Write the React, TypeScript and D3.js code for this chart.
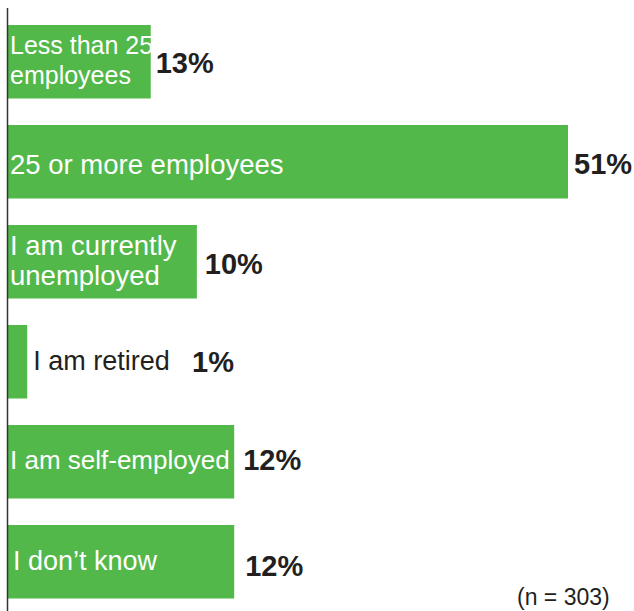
import React from "react";
import * as d3 from "d3";

// ---- data ----
const categories: string[][] = [
  ["Less than 25", "employees"],
  ["25 or more employees"],
  ["I am currently", "unemployed"],
  ["I am retired"],
  ["I am self-employed"],
  ["I don\u2019t know"],
];
const percentLabels: string[] = ["13%", "51%", "10%", "1%", "12%", "12%"];
const values: number[] = [13, 51, 10, 1, 12, 12];
// bar lengths as drawn in the picture (in % units; the source stretches short bars to hold labels)
const barLengths: number[] = [13, 51, 17.2, 1.75, 20.6, 20.6];
const sampleNote = "(n = 303)";

const W = 634;
const H = 611;
const GREEN = "#52b84a";
const DARK = "#231f20";
const FONT = "'Liberation Sans', Arial, Helvetica, sans-serif";

export default function App() {
  const x0 = 8;
  const x = d3.scaleLinear().domain([0, 51]).range([x0, x0 + 560]);
  const ids = categories.map((_, i) => String(i));
  const y = d3
    .scaleBand<string>()
    .domain(ids)
    .range([25, 598.5])
    .paddingInner(0.265)
    .paddingOuter(0)
    .align(0);

  // per-row label tweaks (font size, label offsets)
  const catSize = [25, 27.5, 27.5, 27, 26, 27];
  const catDy = [-8, 12, -7, 8, 7, 8];
  const pctDx = [5, 6, 8, 0, 9, 11];
  const pctDy = [11, 12, 12, 10, 8, 14];

  return (
    <div style={{ position: "absolute", left: 0, top: 0 }}>
      <svg width={W} height={H} style={{ display: "block" }}>
        <rect width={W} height={H} fill="#ffffff" />
        {ids.map((id, i) => {
          const top = y(id)!;
          const bh = y.bandwidth();
          const cy = top + bh / 2;
          const right = x(barLengths[i]);
          const lines = categories[i];
          const inside = i !== 3;
          const fs = catSize[i];
          const lineH = 30;
          const catX = inside ? x0 + 2 : right + 6;
          const pctX = i === 3 ? 192 : right + pctDx[i];
          return (
            <g key={id}>
              <rect x={x0} y={top} width={right - x0} height={bh} fill={GREEN} />
              <text fontFamily={FONT} fontSize={fs} fill={inside ? "#ffffff" : DARK}>
                {lines.map((ln, k) => (
                  <tspan key={k} x={catX + (i === 5 ? 3 : 0)} y={cy + catDy[i] + k * lineH}>
                    {ln}
                  </tspan>
                ))}
              </text>
              <text
                x={pctX}
                y={cy + pctDy[i]}
                fontFamily={FONT}
                fontSize={29}
                fontWeight="bold"
                fill={DARK}
              >
                {percentLabels[i]}
              </text>
            </g>
          );
        })}
        <line x1={7.5} x2={7.5} y1={8} y2={H} stroke="#333333" strokeWidth={1.5} />
        <text x={517} y={605} fontFamily={FONT} fontSize={23} fill={DARK}>
          {sampleNote}
        </text>
      </svg>
    </div>
  );
}
